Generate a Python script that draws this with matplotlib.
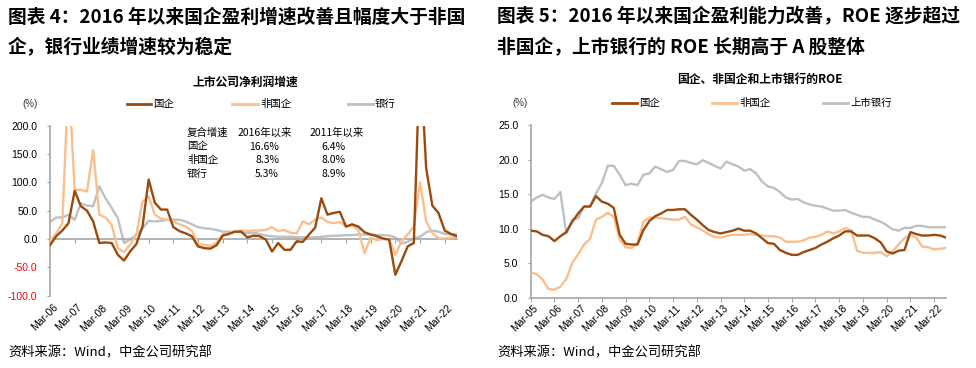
import matplotlib
matplotlib.use('Agg')
import matplotlib.pyplot as plt
import matplotlib.transforms as mtransforms
from matplotlib.lines import Line2D
import numpy as np

plt.rcParams['font.family'] = ['Noto Sans CJK SC', 'DejaVu Sans']

soe_color = '#9c4a0c'
nonsoe_color = '#f9bf8f'
bank_color = '#c0c0c0'
axis_color = '#a6a6a6'
tick_font = ['Liberation Sans', 'DejaVu Sans']

# ---- chart 4: quarterly net profit growth (%), Mar-06 .. Sep-22
growth_soe = [-11, 5, 15, 28, 85, 58, 50, 31, -7, -6, -7, -28, -38, -22, -9, 22,
              105, 64, 52, 52, 21, 14, 10, 5, -13, -16, -17, -11, 6, 9, 13, 13,
              3, 6, 5, -1, -22, -7, -19, -19, -4, -5, 8, 20, 72, 43, 46, 48,
              22, 26, 22, 12, 8, 5, 1, -1, -63, -39, -13, -7, 330, 125, 59, 46,
              15, 9, 5]
growth_nonsoe = [-3, 10, 28, 290, 87, 87, 84, 157, 43, 38, 25, -16, -23, -10, 8, 66,
                 75, 43, 36, 34, 31, 26, 22, 15, -9, -10, -12, -7, 8, 11, 13, 15,
                 14, 15, 15, 16, 21, 14, 16, 11, 10, 31, 26, 34, 38, 30, 28, 30,
                 22, 24, 16, -25, 2, -2, 0, -1, -28, -4, 8, 22, 100, 31, 11, 1,
                 1, 2, 5]
growth_bank = [30, 38, 38, 43, 34, 63, 59, 58, 93, 72, 55, 37, -7, -1, 8, 19,
               32, 31, 32, 34, 34, 34, 31, 26, 21, 19, 18, 16, 13, 13, 13, 12,
               11, 11, 9, 6, 5, 4, 4, 4, 3, 3, 3, 3, 4, 5, 6, 6,
               7, 7, 8, 8, 8, 7, 7, 6, 3, -8, -5, 1, 4, 12, 15, 13,
               9, 8, 9]
growth_labels = ['Mar-06', 'Mar-07', 'Mar-08', 'Mar-09', 'Mar-10', 'Mar-11',
                 'Mar-12', 'Mar-13', 'Mar-14', 'Mar-15', 'Mar-16', 'Mar-17',
                 'Mar-18', 'Mar-19', 'Mar-20', 'Mar-21', 'Mar-22']
growth_ticks = [-100, -50, 0, 50, 100, 150, 200]

cagr_rows = ['国企', '非国企', '银行']
cagr_2016 = ['16.6%', '8.3%', '5.3%']
cagr_2011 = ['6.4%', '8.0%', '8.9%']

# ---- chart 5: ROE (%), Mar-05 .. Sep-22
roe_soe = [9.7, 9.6, 9.1, 8.9, 8.2, 8.9, 9.5, 11.0, 12.2, 13.2, 13.2, 14.7,
           13.9, 13.6, 13.0, 9.1, 7.8, 7.7, 7.7, 9.8, 11.1, 11.8, 12.2, 12.7,
           12.7, 12.8, 12.8, 12.0, 11.3, 10.5, 9.8, 9.5, 9.3, 9.5, 9.7, 10.0,
           9.7, 9.7, 9.3, 8.6, 7.9, 7.8, 6.9, 6.5, 6.2, 6.2, 6.6, 6.9,
           7.2, 7.7, 8.1, 8.6, 9.0, 9.6, 9.6, 9.0, 9.0, 9.0, 8.6, 8.0,
           6.7, 6.4, 6.8, 6.9, 9.5, 9.2, 9.0, 9.0, 9.1, 9.0, 8.7]
roe_nonsoe = [3.7, 3.4, 2.6, 1.25, 1.15, 1.6, 2.7, 5.0, 6.3, 7.7, 8.5, 11.3,
              11.7, 12.3, 11.7, 8.4, 7.3, 7.2, 7.9, 11.0, 11.6, 11.6, 11.5, 11.4,
              11.3, 11.3, 11.7, 10.6, 10.2, 9.7, 9.2, 8.8, 8.7, 8.9, 9.1, 9.1,
              9.1, 9.2, 9.1, 9.0, 8.9, 8.9, 8.7, 8.1, 8.1, 8.1, 8.3, 8.7,
              8.8, 9.1, 9.6, 9.3, 9.6, 10.1, 9.8, 6.8, 6.5, 6.5, 6.5, 6.6,
              6.0, 6.7, 7.7, 8.6, 9.1, 8.7, 7.4, 7.3, 7.0, 7.1, 7.2]
roe_bank = [13.9, 14.5, 14.9, 14.5, 14.3, 15.3, 9.3, 11.3, 11.5, 13.2, 13.2, 15.1,
            16.6, 19.1, 19.1, 17.8, 16.3, 16.5, 16.3, 17.8, 18.0, 19.0, 18.6, 18.2,
            18.5, 19.8, 19.8, 19.5, 19.3, 19.9, 19.5, 19.1, 18.7, 19.7, 19.3, 19.0,
            18.4, 18.6, 18.0, 16.8, 16.1, 15.9, 15.3, 14.5, 14.2, 14.3, 13.8, 13.5,
            13.3, 13.2, 12.9, 12.6, 12.6, 12.7, 12.3, 12.0, 11.7, 11.7, 11.3, 11.0,
            10.5, 9.9, 9.7, 10.1, 10.1, 10.4, 10.4, 10.2, 10.2, 10.2, 10.2]
roe_labels = ['Mar-05', 'Mar-06', 'Mar-07', 'Mar-08', 'Mar-09', 'Mar-10',
              'Mar-11', 'Mar-12', 'Mar-13', 'Mar-14', 'Mar-15', 'Mar-16',
              'Mar-17', 'Mar-18', 'Mar-19', 'Mar-20', 'Mar-21', 'Mar-22']
roe_ticks = [0, 5, 10, 15, 20, 25]

W, H = 976, 368
fig = plt.figure(figsize=(W / 100, H / 100), dpi=100, facecolor='white')


def ft(x, y, s, **kw):
    # place text using pixel coordinates measured from the top-left corner
    return fig.text(x / W, 1 - y / H, s, **kw)


def legend_item(x0, x1, y, color, label):
    fig.add_artist(Line2D([x0 / W, x1 / W], [1 - y / H, 1 - y / H],
                          transform=fig.transFigure, color=color, lw=2))
    ft(x1 + 2, y, label, fontsize=7.5, va='center', ha='left')


def style_axis(ax, xlabels, step, label_offset):
    for spine in ['top', 'right']:
        ax.spines[spine].set_visible(False)
    for spine in ['left', 'bottom']:
        ax.spines[spine].set_color(axis_color)
        ax.spines[spine].set_linewidth(1.2)
    xt = np.arange(len(xlabels)) * step
    ax.set_xticks(xt)
    ax.set_xticklabels([''] * len(xt))
    ax.tick_params(axis='x', direction='out', length=3, color=axis_color)
    ax.tick_params(axis='y', direction='out', length=2, color=axis_color, pad=7)
    trans = mtransforms.blended_transform_factory(ax.transData, ax.transAxes)
    for pos, lab in zip(xt, xlabels):
        ax.text(pos + 0.4, label_offset, lab, transform=trans, rotation=45,
                ha='right', va='top', rotation_mode='anchor',
                fontsize=7.5, family=tick_font)


# ---------------- left chart ----------------
ft(8, 17, '图表 4：2016 年以来国企盈利增速改善且幅度大于非国', fontsize=13.5,
   weight='bold', va='center')
ft(8, 48, '企，银行业绩增速较为稳定', fontsize=13.5, weight='bold', va='center')
ft(245, 82, '上市公司净利润增速', fontsize=8.5, weight='bold', ha='center', va='center')
ft(22, 104, '(%)', fontsize=7, va='center', color='#333333', family=tick_font)
legend_item(127, 151, 104, soe_color, '国企')
legend_item(232, 258, 104, nonsoe_color, '非国企')
legend_item(348, 373, 104, bank_color, '银行')

ax1 = fig.add_axes([50 / W, 1 - 295.7 / H, 407 / W, 170 / H])
x1 = np.arange(len(growth_soe))
ax1.plot(x1, growth_bank, color=bank_color, lw=1.7, zorder=2)
ax1.plot(x1, growth_nonsoe, color=nonsoe_color, lw=1.7, zorder=3)
ax1.plot(x1, growth_soe, color=soe_color, lw=1.7, zorder=4)
ax1.set_xlim(0, len(growth_soe) - 1)
ax1.set_ylim(-100, 200)
style_axis(ax1, growth_labels, 4, -0.04)
ax1.spines['bottom'].set_position(('data', 0))
ax1.set_yticks(growth_ticks)
ax1.set_yticklabels([f'{v:.1f}' for v in growth_ticks], fontsize=7.5, family=tick_font)
for lab, v in zip(ax1.get_yticklabels(), growth_ticks):
    lab.set_color('#ff0000' if v < 0 else 'black')

# compound growth table
ft(187, 133, '复合增速', fontsize=7.5, va='center')
ft(238, 133, '2016年以来', fontsize=7.5, va='center')
ft(310, 133, '2011年以来', fontsize=7.5, va='center')
for k, name in enumerate(cagr_rows):
    y = 146.5 + k * 13.5
    ft(187, y, name, fontsize=7.5, va='center')
    ft(279, y, cagr_2016[k], fontsize=7.5, va='center', ha='right')
    ft(346, y, cagr_2011[k], fontsize=7.5, va='center', ha='right')

ft(8, 353, '资料来源：Wind，中金公司研究部', fontsize=9.5, va='center')

# ---------------- right chart ----------------
ft(497, 17, '图表 5：2016 年以来国企盈利能力改善，ROE 逐步超过', fontsize=13.5,
   weight='bold', va='center')
ft(497, 48, '非国企，上市银行的 ROE 长期高于 A 股整体', fontsize=13.5,
   weight='bold', va='center')
ft(760, 79, '国企、非国企和上市银行的ROE', fontsize=8.5, weight='bold',
   ha='center', va='center')
ft(512, 103, '(%)', fontsize=7, va='center', color='#333333', family=tick_font)
legend_item(612, 637, 103, soe_color, '国企')
legend_item(712, 737, 103, nonsoe_color, '非国企')
legend_item(823, 848, 103, bank_color, '上市银行')

ax2 = fig.add_axes([530.7 / W, 1 - 297.7 / H, 415.3 / W, 172.7 / H])
x2 = np.arange(len(roe_soe))
ax2.plot(x2, roe_bank, color=bank_color, lw=1.7, zorder=2)
ax2.plot(x2, roe_nonsoe, color=nonsoe_color, lw=1.7, zorder=3)
ax2.plot(x2, roe_soe, color=soe_color, lw=1.7, zorder=4)
ax2.set_xlim(0, len(roe_soe) - 1)
ax2.set_ylim(0, 25)
style_axis(ax2, roe_labels, 4, -0.03)
ax2.set_yticks(roe_ticks)
ax2.set_yticklabels([f'{v:.1f}' for v in roe_ticks], fontsize=7.5, family=tick_font)

ft(497, 353, '资料来源：Wind，中金公司研究部', fontsize=9.5, va='center')

fig.savefig('out.png', dpi=100, facecolor='white')
